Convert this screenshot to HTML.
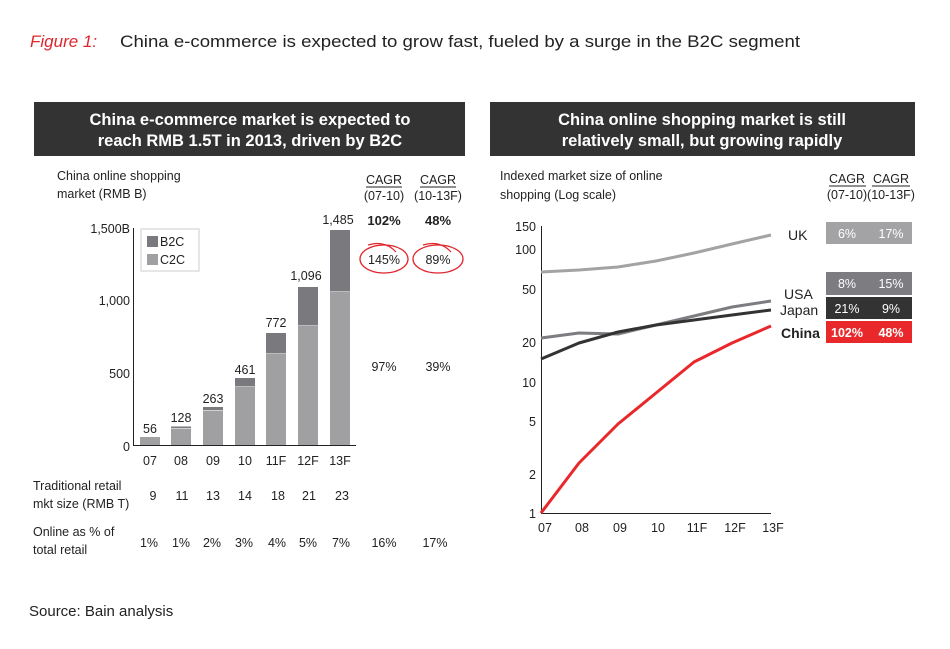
<!DOCTYPE html>
<html><head><meta charset="utf-8"><style>
body{margin:0;background:#fff;}
svg text{font-family:"Liberation Sans",sans-serif;}
</style></head><body>
<svg width="950" height="644" viewBox="0 0 950 644" xmlns="http://www.w3.org/2000/svg">
<rect width="950" height="644" fill="#fff"/>
<text x="30" y="47" font-size="17" fill="#e0262d" font-style="italic" font-family="Liberation Serif">Figure 1:</text>
<text x="120" y="47" font-size="17" fill="#222" textLength="680" lengthAdjust="spacingAndGlyphs">China e-commerce is expected to grow fast, fueled by a surge in the B2C segment</text>

<rect x="34" y="102" width="431" height="54" fill="#333333"/>
<text x="250" y="125" font-size="16.5" font-weight="bold" fill="#fff" text-anchor="middle">China e-commerce market is expected to</text>
<text x="250" y="146" font-size="16.5" font-weight="bold" fill="#fff" text-anchor="middle">reach RMB 1.5T in 2013, driven by B2C</text>
<rect x="490" y="102" width="425" height="54" fill="#333333"/>
<text x="702" y="125" font-size="16.5" font-weight="bold" fill="#fff" text-anchor="middle">China online shopping market is still</text>
<text x="702" y="146" font-size="16.5" font-weight="bold" fill="#fff" text-anchor="middle">relatively small, but growing rapidly</text>

<!-- left chart -->
<g font-size="12.5" fill="#222">
<text x="57" y="180">China online shopping</text>
<text x="57" y="198">market (RMB B)</text>
<text x="384" y="184" text-anchor="middle">CAGR</text><line x1="366" y1="187" x2="402" y2="187" stroke="#222"/>
<text x="384" y="200" text-anchor="middle">(07-10)</text>
<text x="438" y="184" text-anchor="middle">CAGR</text><line x1="420" y1="187" x2="456" y2="187" stroke="#222"/>
<text x="438" y="200" text-anchor="middle">(10-13F)</text>
<text x="384" y="225" text-anchor="middle" font-weight="bold" font-size="13">102%</text>
<text x="438" y="225" text-anchor="middle" font-weight="bold" font-size="13">48%</text>
<text x="384" y="264" text-anchor="middle">145%</text>
<text x="438" y="264" text-anchor="middle">89%</text>
<text x="384" y="371" text-anchor="middle">97%</text>
<text x="438" y="371" text-anchor="middle">39%</text>
<text x="130" y="233" text-anchor="end">1,500B</text>
<text x="130" y="305" text-anchor="end">1,000</text>
<text x="130" y="378" text-anchor="end">500</text>
<text x="130" y="451" text-anchor="end">0</text>
</g>
<ellipse cx="384" cy="259" rx="24" ry="14" fill="none" stroke="#e0262d" stroke-width="1.3"/>
<ellipse cx="438" cy="259" rx="25" ry="14" fill="none" stroke="#e0262d" stroke-width="1.3"/>
<path d="M368 245 Q385 240 396 252" fill="none" stroke="#e0262d" stroke-width="1.2"/>
<path d="M423 245 Q440 240 451 252" fill="none" stroke="#e0262d" stroke-width="1.2"/>

<rect x="141" y="229" width="58" height="42" fill="#fff" stroke="#ccc"/>
<rect x="147" y="236" width="11" height="11" fill="#7a797d"/><text x="160" y="246" font-size="12.5" fill="#222">B2C</text>
<rect x="147" y="254" width="11" height="11" fill="#a0a0a3"/><text x="160" y="264" font-size="12.5" fill="#222">C2C</text>

<g>
<rect x="140" y="437" width="20" height="8" fill="#a0a0a3"/>
<rect x="171" y="426.5" width="20" height="1.5" fill="#7a797d"/><rect x="171" y="428.5" width="20" height="16.5" fill="#a0a0a3"/>
<rect x="203" y="407" width="20" height="3" fill="#7a797d"/><rect x="203" y="410.5" width="20" height="34.5" fill="#a0a0a3"/>
<rect x="235" y="378" width="20" height="8.5" fill="#7a797d"/><rect x="235" y="387" width="20" height="58" fill="#a0a0a3"/>
<rect x="266" y="333" width="20" height="20.5" fill="#7a797d"/><rect x="266" y="354" width="20" height="91" fill="#a0a0a3"/>
<rect x="298" y="287" width="20" height="38.5" fill="#7a797d"/><rect x="298" y="326" width="20" height="119" fill="#a0a0a3"/>
<rect x="330" y="230" width="20" height="61.5" fill="#7a797d"/><rect x="330" y="292" width="20" height="153" fill="#a0a0a3"/>
</g>
<line x1="133.5" y1="228" x2="133.5" y2="445" stroke="#222"/>
<line x1="133" y1="445.5" x2="356" y2="445.5" stroke="#222"/>
<g font-size="12.5" fill="#222" text-anchor="middle">
<text x="150" y="433">56</text><text x="181" y="422">128</text><text x="213" y="403">263</text><text x="245" y="374">461</text>
<text x="276" y="327">772</text><text x="306" y="280">1,096</text><text x="338" y="224">1,485</text>
<text x="150" y="465">07</text><text x="181" y="465">08</text><text x="213" y="465">09</text><text x="245" y="465">10</text>
<text x="276" y="465">11F</text><text x="308" y="465">12F</text><text x="340" y="465">13F</text>
<text x="153" y="500">9</text><text x="182" y="500">11</text><text x="213" y="500">13</text><text x="245" y="500">14</text>
<text x="278" y="500">18</text><text x="309" y="500">21</text><text x="342" y="500">23</text>
<text x="149" y="547">1%</text><text x="181" y="547">1%</text><text x="212" y="547">2%</text><text x="244" y="547">3%</text>
<text x="277" y="547">4%</text><text x="308" y="547">5%</text><text x="341" y="547">7%</text>
<text x="384" y="547">16%</text><text x="435" y="547">17%</text>
</g>
<g font-size="12.5" fill="#222">
<text x="33" y="490">Traditional retail</text><text x="33" y="508">mkt size (RMB T)</text>
<text x="33" y="536">Online as % of</text><text x="33" y="554">total retail</text>
</g>
<text x="29" y="616" font-size="15" fill="#222">Source: Bain analysis</text>

<!-- right chart -->
<g font-size="12.5" fill="#222">
<text x="500" y="180">Indexed market size of online</text>
<text x="500" y="199">shopping (Log scale)</text>
<text x="847" y="183" text-anchor="middle">CAGR</text><line x1="829" y1="186" x2="866" y2="186" stroke="#222"/>
<text x="847" y="199" text-anchor="middle">(07-10)</text>
<text x="891" y="183" text-anchor="middle">CAGR</text><line x1="872" y1="186" x2="910" y2="186" stroke="#222"/>
<text x="891" y="199" text-anchor="middle">(10-13F)</text>
<g text-anchor="end">
<text x="536" y="231">150</text><text x="536" y="254">100</text><text x="536" y="294">50</text>
<text x="536" y="347">20</text><text x="536" y="387">10</text><text x="536" y="426">5</text>
<text x="536" y="479">2</text><text x="536" y="518">1</text>
</g>
<g text-anchor="middle">
<text x="545" y="532">07</text><text x="582" y="532">08</text><text x="620" y="532">09</text><text x="658" y="532">10</text>
<text x="697" y="532">11F</text><text x="735" y="532">12F</text><text x="773" y="532">13F</text>
</g>
</g>
<line x1="541.5" y1="226" x2="541.5" y2="513" stroke="#222"/>
<line x1="541" y1="513.5" x2="771" y2="513.5" stroke="#222"/>
<g fill="none" stroke-width="3" stroke-linejoin="round">
<polyline points="541,272 579,270 618,267 656,261 694,253 732,244 771,235" stroke="#a3a3a6"/>
<polyline points="541,338 579,333 618,334 656,325 694,316 732,307 771,301" stroke="#7d7c80"/>
<polyline points="541,359 579,343 618,332 656,325 694,320 732,315 771,310" stroke="#333"/>
<polyline points="541,513 579,463 618,424 656,393 694,362 732,343 771,326" stroke="#e8282b"/>
</g>
<g font-size="14" fill="#222">
<text x="788" y="240">UK</text>
<text x="784" y="299">USA</text>
<text x="780" y="315">Japan</text>
<text x="781" y="338" font-weight="bold">China</text>
</g>
<rect x="826" y="222" width="86" height="22" fill="#a3a3a6"/>
<rect x="826" y="272" width="86" height="23" fill="#7d7c80"/>
<rect x="826" y="297" width="86" height="22" fill="#333"/>
<rect x="826" y="321" width="86" height="22" fill="#e8282b"/>
<g font-size="12.5" fill="#fff" text-anchor="middle">
<text x="847" y="238">6%</text><text x="891" y="238">17%</text>
<text x="847" y="288">8%</text><text x="891" y="288">15%</text>
<text x="847" y="313">21%</text><text x="891" y="313">9%</text>
<text x="847" y="337" font-weight="bold">102%</text><text x="891" y="337" font-weight="bold">48%</text>
</g>
</svg>
</body></html>
